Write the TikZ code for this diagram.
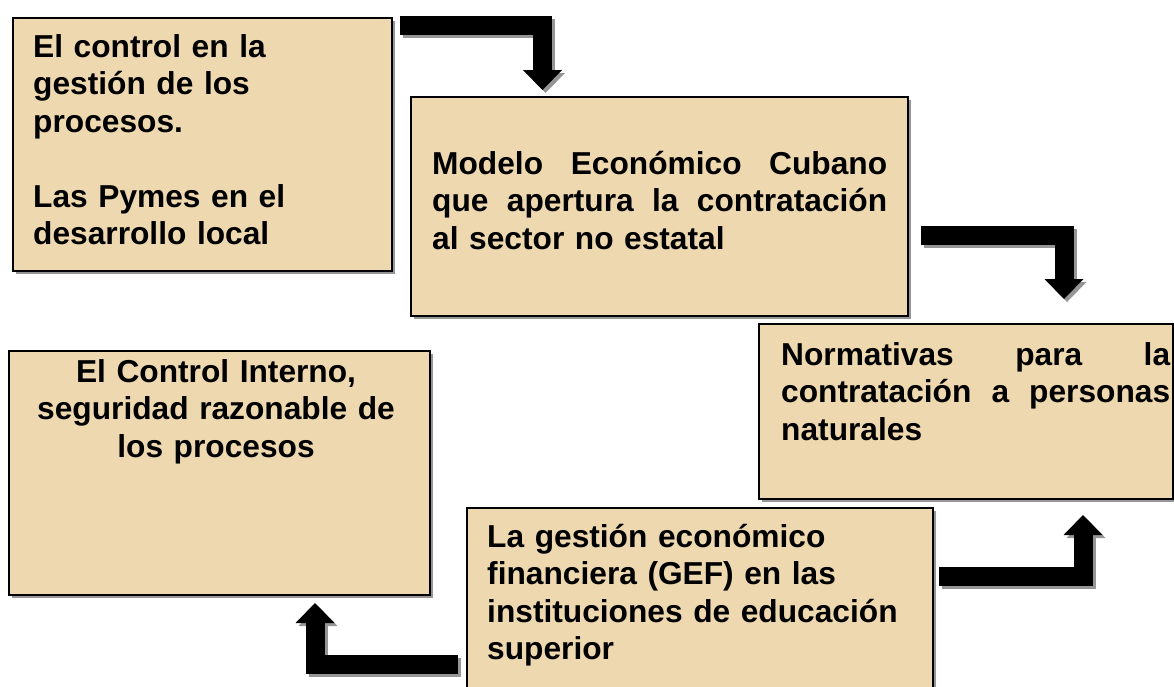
\documentclass[tikz,border=0pt]{standalone}
\usepackage{fontspec}
\setmainfont{Liberation Sans}
\usetikzlibrary{arrows.meta,shadows}
\definecolor{boxfill}{RGB}{238,216,176}
\definecolor{shadowgray}{RGB}{150,150,150}
\newcommand\blockarrow[1]{%
  \draw[barrow, draw=shadowgray, color=shadowgray, transform canvas={shift={(3pt,-3pt)}}] #1;
  \draw[barrow, draw=black, color=black] #1;}
\newcommand\justline[2]{\leavevmode\hbox to #1{#2}}
\begin{document}
\begin{tikzpicture}[x=1pt,y=-1pt,
  box/.style={draw=black, line width=1.6pt, fill=boxfill, inner sep=0pt, anchor=north west,
    drop shadow={shadow xshift=3.5pt, shadow yshift=-3.5pt, fill=shadowgray, opacity=1}},
  txt/.style={inner sep=0pt, font=\fontsize{31.7}{37.5}\selectfont\bfseries},
  barrow/.style={line width=19pt, line join=miter, line cap=butt,
    -{Triangle[width=39pt,length=20pt,line width=0pt]}}
]
\clip (0,0) rectangle (1174,686);
% boxes
\node[box, minimum width=379pt, minimum height=253pt] (b1) at (12,17) {};
\node[box, minimum width=497pt, minimum height=219pt] (b2) at (410,96) {};
\node[box, minimum width=414pt, minimum height=175pt] (b3) at (758,323) {};
\node[box, minimum width=421pt, minimum height=244pt] (b4) at (8,350) {};
\node[box, minimum width=466pt, minimum height=200pt] (b5) at (466,507) {};
% texts
\node[txt, anchor=base west, text width=350pt, align=left] (t1) at (33,57)
  {El control en la\\ gestión de los\\ procesos.\\[37.5pt] Las Pymes en el\\ desarrollo local};
\node[txt, anchor=base west, text width=455pt, align=left] (t2) at (432,174)
  {\justline{455pt}{Modelo\hfill Económico\hfill Cubano}\\
   \justline{455pt}{que\hfill apertura\hfill la\hfill contratación}\\
   al sector no estatal};
\node[txt, anchor=base west, text width=389pt, align=left] (t3) at (781,365)
  {\justline{389pt}{Normativas\hfill para\hfill la}\\
   \justline{389pt}{contratación\hfill a\hfill personas}\\
   naturales};
\node[txt, anchor=base, text width=410pt, align=center] (t4) at (216,382)
  {El Control Interno,\\ seguridad razonable de\\ los procesos};
\node[txt, anchor=base west, text width=430pt, align=left] (t5) at (487,547)
  {La gestión económico\\ financiera (GEF) en las\\ instituciones de educación\\ superior};
% arrows
\coordinate (a1s) at (400,25.5);  \coordinate (a1m) at (542.5,25.5);  \coordinate (a1e) at (542.5,90);
\coordinate (a2s) at (921,235.5); \coordinate (a2m) at (1064,235.5);  \coordinate (a2e) at (1064,299);
\coordinate (a3s) at (939,576.5); \coordinate (a3m) at (1083,576.5);  \coordinate (a3e) at (1083,515);
\coordinate (a4s) at (458,664);   \coordinate (a4m) at (315,664);     \coordinate (a4e) at (315,603);
\blockarrow{(a1s) -- (a1m) -- (a1e)}
\blockarrow{(a2s) -- (a2m) -- (a2e)}
\blockarrow{(a3s) -- (a3m) -- (a3e)}
\blockarrow{(a4s) -- (a4m) -- (a4e)}
\end{tikzpicture}
\end{document}
